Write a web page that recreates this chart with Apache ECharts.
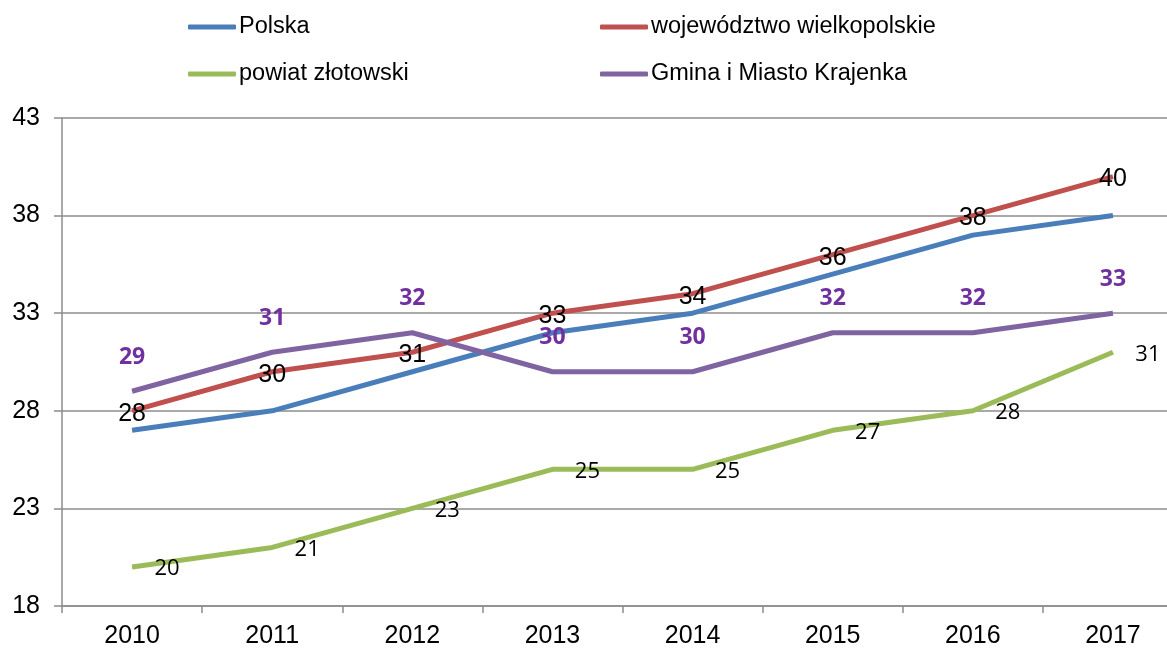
<!DOCTYPE html>
<html>
<head>
<meta charset="utf-8">
<script src="https://cdn.jsdelivr.net/npm/echarts@6/dist/echarts.min.js"></script>
<style>
    body { margin: 0; background: #fff; overflow: hidden; }
    /* the source picture is cropped on the right, so the chart runs past the window */
    #lineChart { width: 1183px; height: 649px; }
</style>
</head>
<body>
<div id="lineChart"></div>
<script>
var years = ['2010', '2011', '2012', '2013', '2014', '2015', '2016', '2017'];
var polska = [27, 28, 30, 32, 33, 35, 37, 38];
var wojewodztwo = [28, 30, 31, 33, 34, 36, 38, 40];
var powiat = [20, 21, 23, 25, 25, 27, 28, 31];
var gmina = [29, 31, 32, 30, 30, 32, 32, 33];
var yTicks = [18, 23, 28, 33, 38, 43];

var font = '"Liberation Sans", Arial, sans-serif';
var gridColor = '#8c8c8c';
var clear = 'rgba(0,0,0,0)';

var chart = echarts.init(document.getElementById('lineChart'));

function legendItem(name, color, left, top) {
    return {
        data: [name],
        left: left,
        top: top,
        icon: 'roundRect',
        itemWidth: 48,
        itemHeight: 5,
        selectedMode: false,
        itemStyle: { color: color },
        textStyle: { fontFamily: font, fontSize: 23.5, color: '#000', padding: [0, 0, 0, -2] }
    };
}

chart.setOption({
    animation: false,
    legend: [
        legendItem('Polska', '#4a7ebb', 183, 10),
        legendItem('województwo wielkopolskie', '#c0504d', 595, 10),
        legendItem('powiat złotowski', '#9bbb59', 183, 57),
        legendItem('Gmina i Miasto Krajenka', '#8064a2', 595, 57)
    ],
    grid: { left: 62, top: 118, right: 0, bottom: 41 },
    xAxis: {
        type: 'category',
        data: years,
        boundaryGap: true,
        axisLine: { lineStyle: { color: gridColor, width: 1.5 } },
        axisTick: { show: true, length: 7, lineStyle: { color: gridColor, width: 1.5 } },
        axisLabel: { fontFamily: font, fontSize: 25, color: '#000', margin: 18 }
    },
    yAxis: {
        type: 'value',
        min: yTicks[0],
        max: yTicks[yTicks.length - 1],
        interval: 5,
        axisLine: { show: true, lineStyle: { color: gridColor, width: 1.5 } },
        axisTick: { show: true, length: 8, lineStyle: { color: gridColor, width: 1.5 } },
        splitLine: { lineStyle: { color: gridColor, width: 1.5 } },
        axisLabel: { fontFamily: font, fontSize: 25, color: '#000', margin: 22 }
    },
    series: [
        {
            name: 'Polska',
            type: 'line',
            data: polska,
            symbol: 'none',
            lineStyle: { color: '#4a7ebb', width: 5 },
            itemStyle: { color: '#4a7ebb' }
        },
        {
            name: 'województwo wielkopolskie',
            type: 'line',
            data: wojewodztwo,
            symbol: 'circle',
            symbolSize: 1,
            lineStyle: { color: '#c0504d', width: 5 },
            itemStyle: { color: clear },
            label: {
                show: true,
                position: 'inside',
                offset: [0, 3],
                fontFamily: font,
                fontSize: 25,
                color: '#000'
            }
        },
        {
            name: 'powiat złotowski',
            type: 'line',
            data: powiat,
            symbol: 'circle',
            symbolSize: 1,
            lineStyle: { color: '#9bbb59', width: 5 },
            itemStyle: { color: clear },
            label: {
                show: true,
                position: 'inside',
                offset: [35, 2],
                fontFamily: '"Open Sans", sans-serif',
                fontSize: 22,
                color: '#000'
            }
        },
        {
            name: 'Gmina i Miasto Krajenka',
            type: 'line',
            data: gmina,
            symbol: 'circle',
            symbolSize: 1,
            lineStyle: { color: '#8064a2', width: 5 },
            itemStyle: { color: clear },
            label: {
                show: true,
                position: 'inside',
                offset: [0, -34],
                fontFamily: '"Open Sans", sans-serif',
                fontWeight: 'bold',
                fontSize: 23,
                color: '#7030a0'
            }
        }
    ]
});
</script>
</body>
</html>
